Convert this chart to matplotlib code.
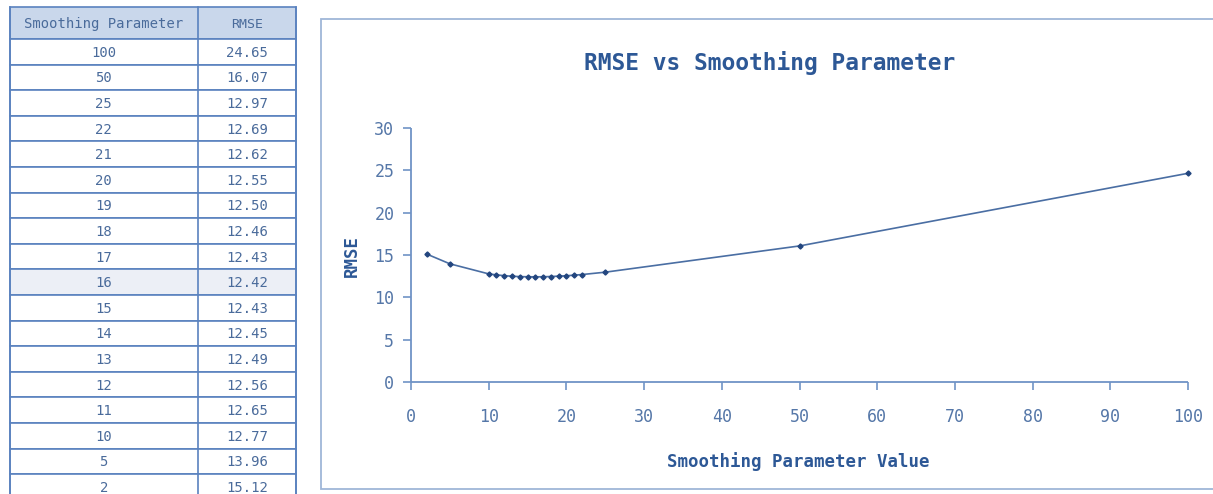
import matplotlib
matplotlib.use("Agg")
import matplotlib.pyplot as plt
from matplotlib.patches import Rectangle

# ---- data ----
table_header = ["Smoothing Parameter", "RMSE"]
params = [100, 50, 25, 22, 21, 20, 19, 18, 17, 16, 15, 14, 13, 12, 11, 10, 5, 2]
rmse = [24.65, 16.07, 12.97, 12.69, 12.62, 12.55, 12.50, 12.46, 12.43,
        12.42, 12.43, 12.45, 12.49, 12.56, 12.65, 12.77, 13.96, 15.12]
highlight_param = 16
x_ticks = [0, 10, 20, 30, 40, 50, 60, 70, 80, 90, 100]
y_ticks = [0, 5, 10, 15, 20, 25, 30]
title = "RMSE vs Smoothing Parameter"
x_label = "Smoothing Parameter Value"
y_label = "RMSE"

FONT = "DejaVu Sans Mono"
plt.rcParams["font.family"] = [FONT, "DejaVu Sans"]

W, H = 1213, 494
fig = plt.figure(figsize=(W / 100, H / 100), dpi=100)
fig.patch.set_facecolor("white")

# background axes in pixel coordinates
bg = fig.add_axes([0, 0, 1, 1])
bg.set_xlim(0, W)
bg.set_ylim(H, 0)
bg.axis("off")

border_c = "#5a82bf"
text_c = "#4a6b9b"
head_fill = "#c9d7eb"
hl_fill = "#eceff6"

# ---- table ----
tx0, tx1, tx2 = 9.5, 198, 296
ty0 = 7.5
head_h = 31.5
row_h = 25.6
bg.add_patch(Rectangle((tx0, ty0), tx2 - tx0, head_h, facecolor=head_fill,
                       edgecolor=border_c, lw=1.2))
bg.text((tx0 + tx1) / 2, ty0 + head_h / 2 + 1, table_header[0], ha="center",
        va="center", fontsize=10, color=text_c)
bg.text((tx1 + tx2) / 2, ty0 + head_h / 2 + 1, table_header[1], ha="center",
        va="center", fontsize=9.5, color=text_c)
for i, (p, r) in enumerate(zip(params, rmse)):
    y = ty0 + head_h + i * row_h
    fc = hl_fill if p == highlight_param else "white"
    bg.add_patch(Rectangle((tx0, y), tx2 - tx0, row_h, facecolor=fc,
                           edgecolor=border_c, lw=1.2))
    bg.text((tx0 + tx1) / 2, y + row_h / 2 + 1, str(p), ha="center",
            va="center", fontsize=10, color=text_c)
    bg.text((tx1 + tx2) / 2, y + row_h / 2 + 1, f"{r:.2f}", ha="center",
            va="center", fontsize=10, color=text_c)
bg.plot([tx1, tx1], [ty0, H + 5], color=border_c, lw=1.2)
bg.plot([tx0, tx0], [ty0, H + 5], color=border_c, lw=1.2)
bg.plot([tx2, tx2], [ty0, H + 5], color=border_c, lw=1.2)

# ---- chart box ----
bg.add_patch(Rectangle((321, 19), W + 20 - 321, 470, facecolor="white",
                       edgecolor="#9fb6d8", lw=1.3))

title_c = "#2d5896"
bg.text(770, 63, title, ha="center", va="center", fontsize=16.5,
        fontweight="bold", color=title_c)
bg.text(798, 462, x_label, ha="center", va="center", fontsize=12.5,
        fontweight="bold", color=title_c)
bg.text(352, 256, y_label, ha="center", va="center", fontsize=12.5,
        fontweight="bold", color=title_c, rotation=90)

# ---- chart axes ----
x0p, x1p = 411, 1188
y0p, y1p = 382, 128
ax = fig.add_axes([x0p / W, (H - y0p) / H, (x1p - x0p) / W, (y0p - y1p) / H])
ax.set_facecolor("none")
ax.set_xlim(0, 100)
ax.set_ylim(0, 30)
ax.set_xticks(x_ticks)
ax.set_yticks(y_ticks)
spine_c = "#6f93c6"
tick_c = "#5577a8"
for s in ["top", "right"]:
    ax.spines[s].set_visible(False)
for s in ["left", "bottom"]:
    ax.spines[s].set_color(spine_c)
    ax.spines[s].set_linewidth(1.3)
    ax.spines[s].set_capstyle("butt")
ax.tick_params(axis="x", direction="out", length=6, width=1.2, color=spine_c,
               labelcolor=tick_c, labelsize=12, pad=13)
ax.tick_params(axis="y", direction="out", length=6, width=1.2, color=spine_c,
               labelcolor=tick_c, labelsize=12, pad=6)

order = sorted(range(len(params)), key=lambda i: params[i])
xs = [params[i] for i in order]
ys = [rmse[i] for i in order]
ax.plot(xs, ys, color="#4a6ea3", lw=1.2, marker="D", markersize=2.6,
        markerfacecolor="#23467f", markeredgecolor="#23467f", clip_on=False)

fig.savefig("out.png", dpi=100, facecolor="white")
